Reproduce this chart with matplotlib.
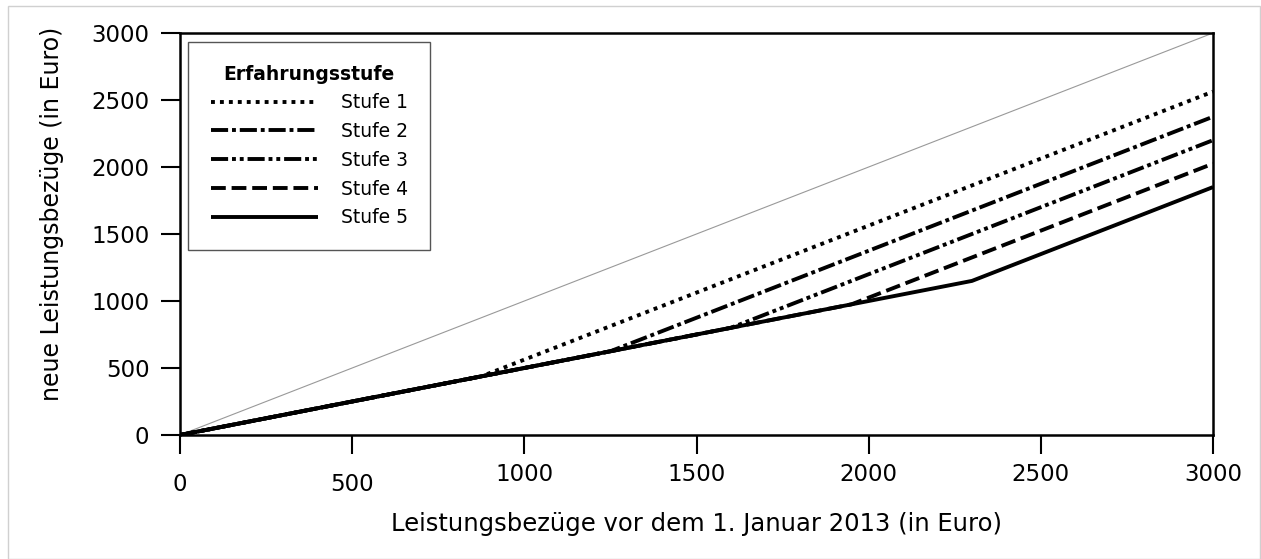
import matplotlib
matplotlib.use("Agg")
import matplotlib.pyplot as plt
import matplotlib.transforms as mtransforms
from matplotlib.patches import Rectangle

# Data (breakpoints of each piecewise-linear curve)
stufe_labels = ["Stufe 1", "Stufe 2", "Stufe 3", "Stufe 4", "Stufe 5"]
stufe1_x = [0, 875, 3000]
stufe1_y = [0, 437.5, 2562.5]
stufe2_x = [0, 1250, 3000]
stufe2_y = [0, 625, 2375]
stufe3_x = [0, 1600, 3000]
stufe3_y = [0, 800, 2200]
stufe4_x = [0, 1950, 3000]
stufe4_y = [0, 975, 2025]
stufe5_x = [0, 2300, 3000]
stufe5_y = [0, 1150, 1850]
diag_x = [0, 3000]
diag_y = [0, 3000]
xticks = [0, 500, 1000, 1500, 2000, 2500, 3000]
yticks = [0, 500, 1000, 1500, 2000, 2500, 3000]

plt.rcParams['font.family'] = ['DejaVu Sans']

fig = plt.figure(figsize=(12.61, 5.59), dpi=100)
ax = fig.add_axes([180/1261, 1 - 435/559, (1213-180)/1261, (435-33)/559])

# light frame around the figure
fig.patches.append(Rectangle((8/1261, 0), 1 - 8/1261 - 0.001, 1 - 6/559,
                             transform=fig.transFigure, fill=False,
                             edgecolor='#d0d0d0', lw=1.0))

ax.plot(diag_x, diag_y, color='#999999', lw=0.8, zorder=1)

lw = 2.8
styles = [
    (0, (1.0, 1.3)),
    (0, (4.4, 1.0, 1.0, 1.0)),
    (0, (4.4, 1.0, 1.0, 1.0, 1.0, 1.0)),
    (0, (3.8, 1.5)),
    '-',
]
xs = [stufe1_x, stufe2_x, stufe3_x, stufe4_x, stufe5_x]
ys = [stufe1_y, stufe2_y, stufe3_y, stufe4_y, stufe5_y]
for x, y, ls, lab in zip(xs, ys, styles, stufe_labels):
    ax.plot(x, y, color='black', lw=lw, linestyle=ls, label=lab,
            dash_capstyle='butt', solid_capstyle='butt', zorder=2)

ax.set_xlim(0, 3000)
ax.set_ylim(0, 3000)
ax.set_xticks(xticks)
ax.set_yticks(yticks)
ax.tick_params(direction='out', length=14, width=1.5, labelsize=16.5,
               colors='black')
ax.tick_params(axis='x', pad=6)
ax.tick_params(axis='y', pad=8)
for s in ax.spines.values():
    s.set_linewidth(1.8)

ax.set_xlabel("Leistungsbezüge vor dem 1. Januar 2013 (in Euro)", fontsize=17.5,
              labelpad=12)
ax.set_ylabel("neue Leistungsbezüge (in Euro)", fontsize=17)
ax.yaxis.set_label_coords(-0.112, 0.55)

# the first two x tick labels sit slightly lower in the reference
fig.canvas.draw()
for lbl in ax.get_xticklabels()[:2]:
    lbl.set_transform(lbl.get_transform() +
                      mtransforms.ScaledTranslation(0, -10/100, fig.dpi_scale_trans))

leg = ax.legend(title="Erfahrungsstufe", loc='upper left',
                bbox_to_anchor=(0.008, 0.9776), borderaxespad=0,
                fontsize=13.5,
                title_fontproperties={'weight': 'bold', 'size': 13.5},
                handlelength=5.7, handletextpad=1.23, borderpad=1.2,
                labelspacing=0.52, fancybox=False, framealpha=1)
leg.get_frame().set_edgecolor('#555555')
leg.get_frame().set_linewidth(1.0)

fig.savefig("out.png", dpi=100)
